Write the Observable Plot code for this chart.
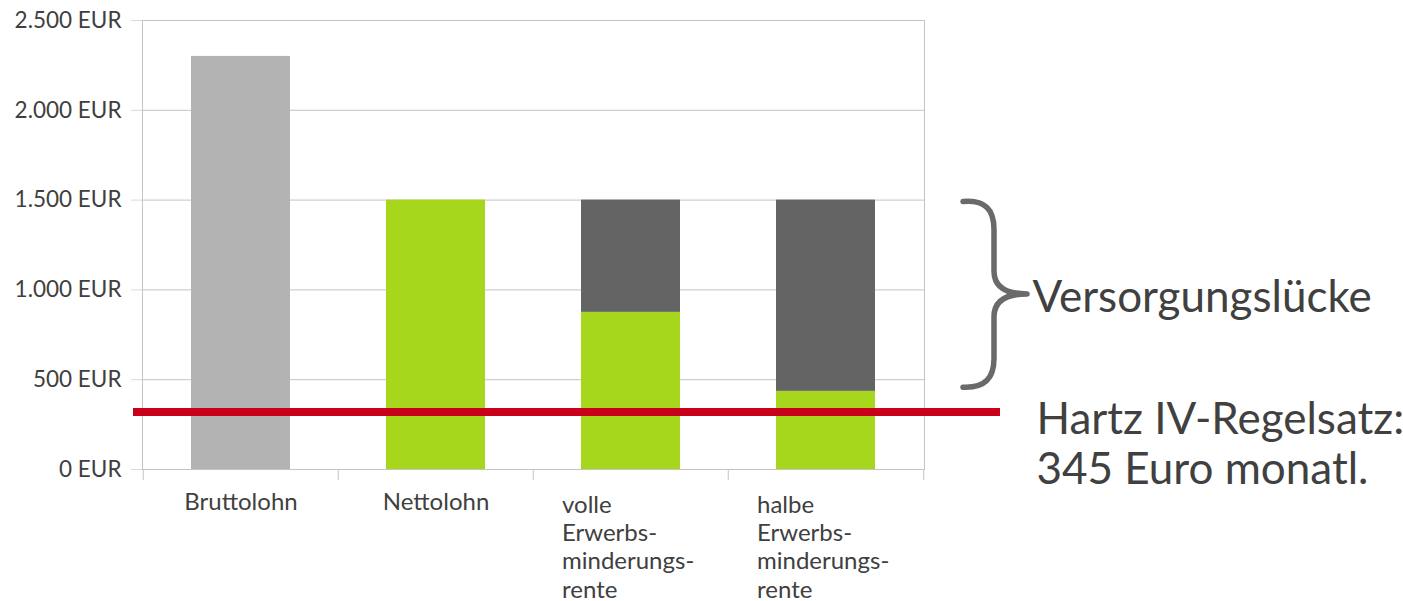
<!DOCTYPE html>
<html>
<head>
<meta charset="utf-8">
<script src="https://cdn.jsdelivr.net/npm/d3@7"></script>
<script src="https://cdn.jsdelivr.net/npm/@observablehq/plot@0.6"></script>
<style>
  html, body { margin: 0; padding: 0; background: #fff; }
</style>
</head>
<body>
<div id="chart"></div>
<script>
// ---- data ----
const categories = ["Bruttolohn", "Nettolohn", "volle Erwerbsminderungsrente", "halbe Erwerbsminderungsrente"];
const xLabels = ["Bruttolohn", "Nettolohn", "volle\nErwerbs-\nminderungs-\nrente", "halbe\nErwerbs-\nminderungs-\nrente"];
const brutto = [2300, 0, 0, 0];
const netto = [0, 1500, 875, 435];
const luecke = [0, 0, 625, 1065];
const yTicks = [0, 500, 1000, 1500, 2000, 2500];
const hartzIV = [320];
const braceRange = [450, 1500];
const gapLabel = "Versorgungslücke";
const hartzLabel = "Hartz IV-Regelsatz:\n345 Euro monatl.";

// ---- table ----
const seriesNames = ["brutto", "netto", "luecke"];
const seriesValues = [brutto, netto, luecke];
const rows = [];
categories.forEach((c, i) => {
  seriesNames.forEach((s, j) => rows.push({cat: c, series: s, value: seriesValues[j][i]}));
});

const W = 1403, H = 601, ml = 142, mr = 479, mt = 20, mb = 132;
const step = (W - ml - mr) / categories.length;
const de = d3.formatLocale({decimal: ",", thousands: ".", grouping: [3], currency: ["", " €"]});
const fmt = de.format(",");
const textColor = "#404040";
const annoFont = "Lato, 'Open Sans', sans-serif";
const labelFont = "Lato, sans-serif";

const single = xLabels.map((t, i) => ({cat: categories[i], t})).filter(d => !d.t.includes("\n"));
const multi = xLabels.map((t, i) => ({cat: categories[i], t})).filter(d => d.t.includes("\n"));

const brace = (index, scales, values, dims) => {
  const yTop = scales.y(braceRange[1]);
  const yBot = scales.y(braceRange[0]);
  const x0 = dims.width - dims.marginRight + 39;
  const xm = x0 + 31, xt = x0 + 64;
  const ym = (yTop + yBot) / 2;
  const d = `M${x0},${yTop + 2} C${x0 + 22},${yTop} ${xm},${yTop + 10} ${xm},${yTop + 30}` +
    ` L${xm},${ym - 23} C${xm},${ym - 8} ${xm + 11},${ym} ${xt},${ym}` +
    ` C${xm + 11},${ym} ${xm},${ym + 8} ${xm},${ym + 23}` +
    ` L${xm},${yBot - 30} C${xm},${yBot - 10} ${x0 + 22},${yBot} ${x0},${yBot - 1}`;
  const p = d3.create("svg:path")
    .attr("d", d)
    .attr("fill", "none")
    .attr("stroke", "#6a6a6a")
    .attr("stroke-width", 5.5)
    .attr("stroke-linecap", "round")
    .attr("stroke-linejoin", "round");
  return p.node();
};

const chart = Plot.plot({
  width: W, height: H,
  marginLeft: ml, marginRight: mr, marginTop: mt, marginBottom: mb,
  style: {fontFamily: "Lato, sans-serif", color: textColor, background: "#fff", overflow: "visible"},
  x: {domain: categories, paddingInner: 0.494, paddingOuter: 0.247, axis: null},
  y: {domain: [0, 2500]},
  color: {domain: seriesNames, range: ["#b3b3b3", "#a6d71c", "#646464"]},
  marks: [
    Plot.gridY(yTicks, {stroke: "#c4c4c4", strokeOpacity: 1}),
    Plot.frame({stroke: "#c4c4c4"}),
    Plot.axisY(yTicks, {
      tickSize: 11, tickPadding: 10, stroke: "#d9d9d9", strokeOpacity: 1, label: null,
      tickFormat: d => fmt(d) + " EUR", fontSize: 22.5, fill: textColor
    }),
    Plot.barY(rows, Plot.stackY({x: "cat", y: "value", fill: "series", order: seriesNames})),
    Plot.ruleX(categories, {x: d => d, y1: 0, y2: -62, dx: -step / 2, stroke: "#c4c4c4"}),
    Plot.ruleX(categories.slice(-1), {x: d => d, y1: 0, y2: -62, dx: step / 2, stroke: "#c4c4c4"}),
    Plot.ruleY(hartzIV, {stroke: "#c8001a", strokeWidth: 8, insetLeft: -9, insetRight: -76}),
    Plot.text(single, {x: "cat", y: () => 0, text: "t", lineAnchor: "top", dy: 23, fontSize: 24,
      fill: textColor, fontFamily: labelFont}),
    Plot.text(multi, {x: "cat", y: () => 0, text: "t", lineAnchor: "top", dy: 23, dx: -69, textAnchor: "start",
      fontSize: 24, lineHeight: 1.18,
      fill: textColor, fontFamily: labelFont}),
    brace,
    Plot.text([gapLabel], {y: () => (braceRange[0] + braceRange[1]) / 2, frameAnchor: "right", text: d => d,
      textAnchor: "start", dx: 108, dy: 4, fontSize: 44, fill: textColor, fontFamily: annoFont}),
    Plot.text([hartzLabel], {y: () => hartzIV[0], frameAnchor: "right", text: d => d,
      textAnchor: "start", lineAnchor: "top", dx: 112, dy: -14, fontSize: 44, lineHeight: 1.14,
      fill: textColor, fontFamily: annoFont})
  ]
});
document.getElementById("chart").appendChild(chart);
</script>
</body>
</html>
